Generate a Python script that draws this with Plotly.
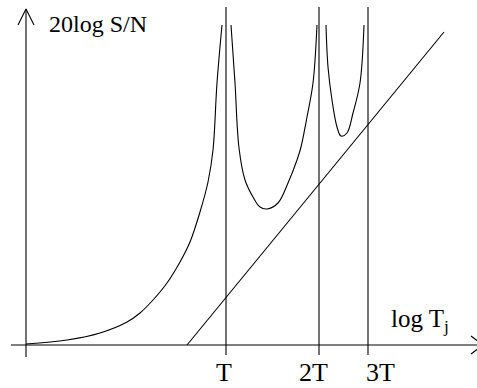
import plotly.graph_objects as go

# ---- data (schematic units: x = distance along log T axis, y = 20log S/N) ----
branch1_x = [0, 41, 74, 101, 114, 127, 141, 154, 164, 174, 182, 187, 191, 196]
branch1_y = [1, 5, 12, 23, 32, 45, 62, 83, 103, 133, 163, 195, 262, 320]

branch2_x = [205, 209, 213, 219, 227, 234, 241, 252, 262, 271, 275, 281, 287, 291]
branch2_y = [320, 262, 197, 165, 148, 138, 136, 142, 162, 185, 198, 228, 262, 320]

branch3_x = [300, 302, 306, 311, 315, 321, 327, 334, 338]
branch3_y = [320, 278, 245, 218, 209, 212, 232, 262, 320]

line_x = [161, 418]
line_y = [0, 313]

tick_vals = [200, 293, 342]
tick_text = ["T", "2T", "3T"]
label_x = [198, 287, 354]
vline_y = [-10, 338]

y_label = "20log S/N"
x_label = "log T<sub>j</sub>"

FONT = "Liberation Serif, Times New Roman, serif"
BLK = "#000000"

fig = go.Figure()

def add_line(xs, ys, w=1.1, shape="linear"):
    fig.add_trace(go.Scatter(x=xs, y=ys, mode="lines",
                             line=dict(color=BLK, width=w, shape=shape),
                             hoverinfo="skip", showlegend=False))

add_line(branch1_x, branch1_y, shape="spline")
add_line(branch2_x, branch2_y, shape="spline")
add_line(branch3_x, branch3_y, shape="spline")
add_line(line_x, line_y)
for tv in tick_vals:
    add_line([tv, tv], vline_y)

# axes with arrows
add_line([0, 0], [-12, 336])
add_line([-8, 0, 8], [320, 336, 320])
add_line([-15, 457], [0, 0])
add_line([445, 457, 445], [9, 0, -9])

annotations = []
for lx, t in zip(label_x, tick_text):
    annotations.append(dict(x=lx, y=-43, xref="x", yref="y", text=t, showarrow=False,
                            xanchor="center", yanchor="bottom", borderpad=0,
                            font=dict(family=FONT, size=26, color=BLK)))
annotations.append(dict(x=21, y=321, xref="x", yref="y", text=y_label, showarrow=False,
                        xanchor="left", yanchor="middle",
                        font=dict(family=FONT, size=24, color=BLK)))
annotations.append(dict(x=363, y=25, xref="x", yref="y", text=x_label, showarrow=False,
                        xanchor="left", yanchor="middle",
                        font=dict(family=FONT, size=25, color=BLK)))

fig.update_layout(
    width=477, height=388,
    margin=dict(l=0, r=0, t=0, b=0),
    paper_bgcolor="white", plot_bgcolor="white",
    xaxis=dict(range=[-26, 451], visible=False, fixedrange=True),
    yaxis=dict(range=[-43, 345], visible=False, fixedrange=True),
    annotations=annotations,
)

fig.write_html("out.html", config={"displayModeBar": False},
               post_script="document.body.style.margin='0';document.body.style.overflow='hidden';")
